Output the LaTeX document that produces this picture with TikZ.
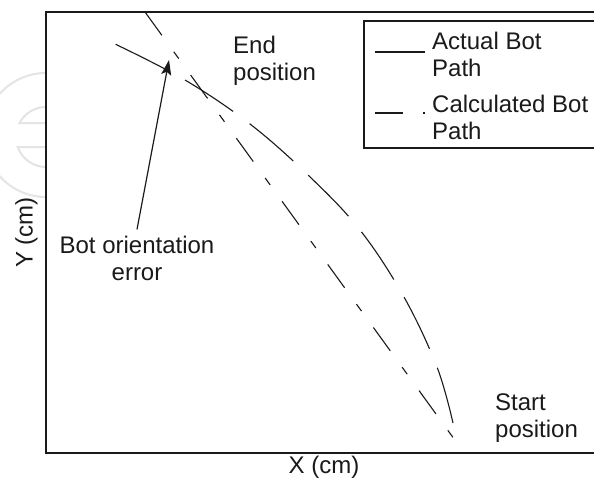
\documentclass[tikz,border=0pt]{standalone}
\usepackage{fontspec}
\setmainfont{Liberation Sans}
\usetikzlibrary{arrows.meta}
\definecolor{frameink}{HTML}{1A1A1A}
\definecolor{markgray}{HTML}{E4E4E4}
\begin{document}
\begin{tikzpicture}[x=1pt,y=-1pt,
  lbl/.style={font=\fontsize{24}{27}\selectfont, inner sep=0pt, align=left, anchor=base west, text=frameink},
  frameline/.style={draw=frameink, line width=1.5pt},
  pathline/.style={draw=frameink, line width=1.1pt},
  arrowline/.style={draw=frameink, line width=1.2pt, -{Stealth[length=15pt,width=10pt,inset=3pt]}},
  wmark/.style={draw=markgray, line width=2pt}]
\useasboundingbox (0,0) rectangle (594,487);
\clip (0,0) rectangle (594,487);
\fill[white] (0,0) rectangle (594,487);

% faint logo mark on the left margin
\draw[wmark] (46,135) circle[radius=62];
\draw[wmark] (46,107) arc[start angle=-90, end angle=-152.2, radius=30] -- (46,123);
\draw[wmark] (46,147) -- (17.7,147) arc[start angle=160.5, end angle=90, radius=30];

% plot area
\fill[white] (46,12) rectangle (600,453);
\draw[frameline] (600,12) -- (46,12) -- (46,453) -- (600,453);

% legend (multi-line labels are placed by the baseline of their last line)
\draw[frameline, line width=1.2pt] (600,21) -- (364,21) -- (364,148) -- (600,148);
\draw[pathline] (375,52) -- (425,52);
\draw[pathline, dash pattern=on 28pt off 20pt on 2pt off 20pt] (375,113) -- (425,113);
\node[lbl] (legA) at (432,77) {Actual Bot\\Path};
\node[lbl] (legC) at (432,139) {Calculated Bot\\Path};

% actual bot path
\draw[pathline, dash pattern=on 57.5pt off 20.5pt]
  plot[smooth, tension=0.6] coordinates {(453,423) (437,367) (404,297) (360,230) (308,175) (250,124) (185,80) (115,44)};

% calculated bot path
\coordinate (calcTop) at (145,12);
\coordinate (calcEnd) at (457,443);
\draw[pathline, dash pattern=on 28.8pt off 20.3pt on 8.5pt off 20.3pt] (calcTop) -- (calcEnd);

% annotations
\node[lbl] (endpos) at (233,81) {End\\position};
\node[lbl] (startpos) at (495,437) {Start\\position};
\node[lbl, align=center, anchor=base] (err) at (137,280) {Bot orientation\\error};
\coordinate (errTip) at (169,60);
\draw[arrowline] ([yshift=6pt]err.north) -- (errTip);

% axis titles
\node[lbl, anchor=base] (xlab) at (324,473) {X (cm)};
\node[lbl, anchor=base, rotate=90] (ylab) at (32.5,232.6) {Y (cm)};
\end{tikzpicture}
\end{document}
